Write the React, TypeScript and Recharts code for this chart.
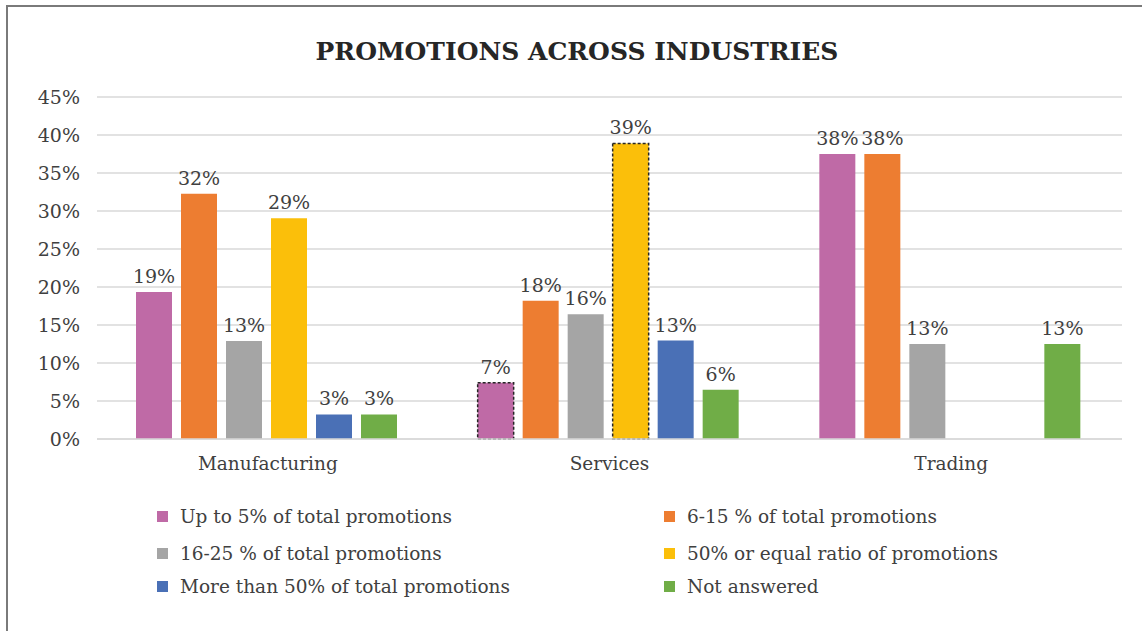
import { BarChart, Bar, XAxis, YAxis, CartesianGrid, LabelList, Cell } from "recharts";

const categories = ["Manufacturing", "Services", "Trading"];

// percentages
const upTo5 = [19.35, 7.41, 37.5];
const from6to15 = [32.26, 18.2, 37.5];
const from16to25 = [12.9, 16.4, 12.5];
const equalRatio = [29.03, 38.89, null];
const moreThan50 = [3.23, 12.96, null];
const notAnswered = [3.23, 6.48, 12.5];

const yTicks = [0, 5, 10, 15, 20, 25, 30, 35, 40, 45];

const series = [
  { key: "upTo5", name: "Up to 5% of total promotions", values: upTo5, color: "#BF6AA6" },
  { key: "from6to15", name: "6-15 % of total promotions", values: from6to15, color: "#ED7D31" },
  { key: "from16to25", name: "16-25 % of total promotions", values: from16to25, color: "#A5A5A5" },
  { key: "equalRatio", name: "50% or equal ratio of promotions", values: equalRatio, color: "#FBBF0A" },
  { key: "moreThan50", name: "More than 50% of total promotions", values: moreThan50, color: "#4A70B6" },
  { key: "notAnswered", name: "Not answered", values: notAnswered, color: "#70AD47" },
];

// bars that have a dashed outline in the original (series key -> category)
const dashed: Record<string, string> = { upTo5: "Services", equalRatio: "Services" };

const data = categories.map((name, i) => {
  const row: Record<string, any> = { name };
  series.forEach((s) => (row[s.key] = s.values[i]));
  return row;
});

const fmt = (v: any) => (v == null ? "" : `${Math.round(Number(v))}%`);

const textColor = "#404040";

const App = () => {
  return (
    <div
      style={{
        position: "absolute",
        left: 0,
        top: 0,
        width: 1142,
        height: 631,
        background: "#fff",
        overflow: "hidden",
        fontFamily: "'DejaVu Serif', serif",
      }}
    >
      <div
        style={{
          position: "absolute",
          left: 6,
          top: 5,
          width: 1160,
          height: 650,
          border: "2px solid #7a7a7a",
          boxSizing: "border-box",
        }}
      />
      <div
        style={{
          position: "absolute",
          left: 0,
          top: 35,
          width: 1154,
          textAlign: "center",
          fontSize: 25,
          fontWeight: "bold",
          color: "#262626",
          lineHeight: "34px",
        }}
      >
        PROMOTIONS ACROSS INDUSTRIES
      </div>
      <div style={{ position: "absolute", left: 0, top: 0 }}>
        <BarChart
          width={1142}
          height={480}
          data={data}
          margin={{ top: 97, right: 20, left: 0, bottom: 11 }}
          barCategoryGap={39}
          barGap={9}
        >
          <CartesianGrid vertical={false} stroke="#d9d9d9" strokeWidth={1.5} />
          <XAxis
            dataKey="name"
            height={30}
            axisLine={{ stroke: "#d9d9d9", strokeWidth: 1.5 }}
            tickLine={false}
            tickMargin={12}
            tick={{ fontSize: 18.5, fill: textColor }}
          />
          <YAxis
            width={97}
            domain={[0, 45]}
            ticks={yTicks}
            axisLine={false}
            tickLine={false}
            tickMargin={11}
            tickFormatter={(v) => `${v}%`}
            tick={{ fontSize: 19, fill: textColor }}
          />
          {series.map((s) => (
            <Bar key={s.key} dataKey={s.key} name={s.name} fill={s.color} isAnimationActive={false}>
              {data.map((d) => (
                <Cell
                  key={d.name}
                  fill={s.color}
                  stroke={dashed[s.key] === d.name ? "#262626" : "none"}
                  strokeWidth={dashed[s.key] === d.name ? 1.5 : 0}
                  strokeDasharray={dashed[s.key] === d.name ? "3 2" : undefined}
                />
              ))}
              <LabelList
                dataKey={s.key}
                position="top"
                offset={9}
                formatter={fmt}
                style={{ fontSize: 19, fill: textColor }}
              />
            </Bar>
          ))}
        </BarChart>
      </div>
      {series.map((s, i) => {
        const col = i % 2;
        const row = Math.floor(i / 2);
        const rowY = [516, 553, 586][row];
        return (
          <div
            key={s.key}
            style={{
              position: "absolute",
              left: col === 0 ? 157 : 664,
              top: rowY - 12,
              height: 24,
              display: "flex",
              alignItems: "center",
              fontSize: 18.5,
              color: textColor,
              whiteSpace: "nowrap",
            }}
          >
            <span style={{ width: 11, height: 11, background: s.color, marginRight: 12, display: "inline-block" }} />
            {s.name}
          </div>
        );
      })}
    </div>
  );
};

export default App;
